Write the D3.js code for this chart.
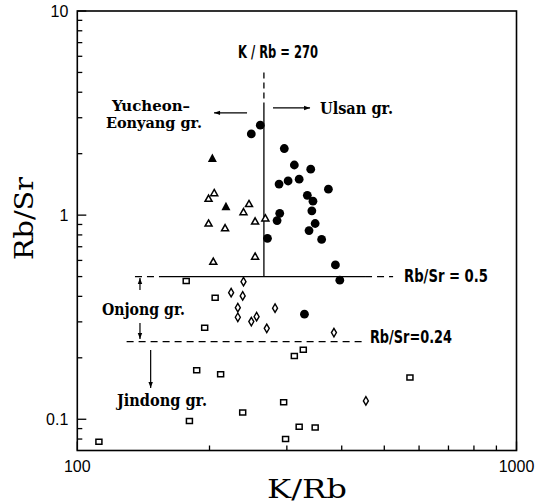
<!DOCTYPE html>
<html><head><meta charset="utf-8">
<script src="https://cdn.jsdelivr.net/npm/d3@7"></script>
<style>body{margin:0;background:#fff}svg{display:block}</style>
</head><body>
<svg id="chart" width="538" height="504"></svg>
<script>
// ---- Data: [K/Rb, Rb/Sr] ----
const ulsanGr = [[261,2.76],[249,2.50],[296,2.12],[312,1.76],[340,1.68],[288,1.42],[302,1.47],[320,1.50],
  [373,1.34],[334,1.25],[344,1.17],[342,1.05],[289,1.02],[285,0.94],[348,0.91],[337,0.84],[360,0.76],
  [271,0.77],[387,0.57],[396,0.48],[329,0.327]];
const yucheonFilled = [[203,1.91],[218,1.11]];
const yucheonOpen = [[205,1.29],[199,1.21],[246,1.14],[239,1.04],[199,0.915],[217,0.868],[254,0.936],
  [268,0.97],[204,0.595],[254,0.63]];
const onjongGr = [[239,0.472],[224,0.417],[238,0.402],[232,0.352],[232,0.316],[249,0.301],[256,0.318],
  [282,0.350],[270,0.279],[384,0.266],[454,0.123]];
const jindongGr = [[177,0.476],[206,0.394],[195,0.281],[187,0.174],[212,0.166],[312,0.204],[327,0.219],
  [572,0.160],[295,0.121],[238,0.108],[180,0.098],[112,0.0777],[298,0.080],[320,0.092],[348,0.091]];

const xTickLabels = ["100","1000"];
const xTickValues = [100,1000];
const yTickLabels = ["0.1","1","10"];
const yTickValues = [0.1,1,10];

// boundary lines (data coords)
const krbBoundary = 266;             // K/Rb = 270 line as drawn
const krbDashed = [5.0, 3.35];       // Rb/Sr span dashed
const krbSolid = [3.35, 0.5];        // Rb/Sr span solid
const rbsr05 = 0.5;
const rbsr05Dashed1 = [135.3, 154.3];
const rbsr05Solid = [154.3, 452];
const rbsr05Dashed2 = [452, 523.6];
const rbsr024 = 0.24;
const rbsr024Dashed = [129.5, 444];

// annotations: [text, K/Rb (left), Rb/Sr (baseline), width px, style, size]
const labelTexts = [
  ["K / Rb = 270", 232.2, 5.885, 80, "cond", 18],
  ["Yucheon\u2013", 119.95, 3.237, 78, "serif", 15],
  ["Eonyang gr.", 116.2, 2.657, 96, "serif", 15],
  ["Ulsan gr.", 356.9, 3.13, 73, "serif", 16],
  ["Onjong gr.", 113.8, 0.3243, 83, "serif", 16],
  ["Jindong gr.", 123.1, 0.1162, 90, "serif", 16],
  ["Rb/Sr = 0.5", 554.4, 0.4705, 84, "cond", 18],
  ["Rb/Sr=0.24", 463.8, 0.2365, 82, "cond", 18]
];
// arrows: [x1,y1,x2,y2] data coords, head at (x2,y2)
const arrowSegs = [
  [243.5,3.17,204.8,3.17],
  [279,3.35,338.8,3.35],
  [138.9,0.430,138.9,0.492],
  [138.9,0.296,138.9,0.2474],
  [146.9,0.2186,146.9,0.1423]
];

const svg = d3.select("#chart");
const x = d3.scaleLog().domain([100,1000]).range([77.3,516.5]);
const y = d3.scaleLog().domain([0.0703,10]).range([450.5,11]);
const [x0,x1] = x.range(), [yb,yt] = y.range();

// ticks (inward)
const isMajor = v => Math.abs(Math.log10(v) - Math.round(Math.log10(v))) < 1e-6;
svg.append("g").selectAll("line").data(y.ticks()).join("line")
  .attr("x1", x0).attr("x2", d => x0 + (isMajor(d) ? 9 : 5))
  .attr("y1", d => y(d)).attr("y2", d => y(d))
  .attr("stroke","#000").attr("stroke-width",1.3);
svg.append("g").selectAll("line").data(x.ticks()).join("line")
  .attr("y1", yb).attr("y2", d => yb - (isMajor(d) ? 9 : 5))
  .attr("x1", d => x(d)).attr("x2", d => x(d))
  .attr("stroke","#000").attr("stroke-width",1.3);

// frame
svg.append("rect").attr("x",x0).attr("y",yt).attr("width",x1-x0).attr("height",yb-yt)
  .attr("fill","none").attr("stroke","#000").attr("stroke-width",1.6);

// tick labels
svg.append("g").selectAll("text").data(yTickValues).join("text")
  .attr("x", x0 - 9).attr("y", d => y(d)).attr("dy","0.36em")
  .attr("text-anchor","end").attr("font-family","'Liberation Sans',Arial,sans-serif")
  .attr("font-size",16).text((d,i) => yTickLabels[i]);
svg.append("g").selectAll("text").data(xTickValues).join("text")
  .attr("x", d => x(d)).attr("y", yb + 21)
  .attr("text-anchor","middle").attr("font-family","'Liberation Sans',Arial,sans-serif")
  .attr("font-size",16).text((d,i) => xTickLabels[i]);

// axis titles
svg.append("text").attr("x",267).attr("y",498).attr("font-family","'DejaVu Serif',serif")
  .attr("font-size",26).attr("textLength",80).attr("lengthAdjust","spacingAndGlyphs").text("K/Rb");
svg.append("text").attr("transform","translate(33,260) rotate(-90)").attr("font-family","'DejaVu Serif',serif")
  .attr("font-size",26).attr("textLength",83).attr("lengthAdjust","spacingAndGlyphs").text("Rb/Sr");

// reference lines
const lineG = svg.append("g").attr("stroke","#000").attr("stroke-width",1.3).attr("fill","none");
lineG.append("line").attr("x1",x(krbBoundary)).attr("x2",x(krbBoundary))
  .attr("y1",y(krbDashed[0])).attr("y2",y(krbDashed[1])).attr("stroke-dasharray","6,4");
lineG.append("line").attr("x1",x(krbBoundary)).attr("x2",x(krbBoundary))
  .attr("y1",y(krbSolid[0])).attr("y2",y(krbSolid[1]));
lineG.append("line").attr("x1",x(rbsr05Dashed1[0])).attr("x2",x(rbsr05Dashed1[1]))
  .attr("y1",y(rbsr05)).attr("y2",y(rbsr05)).attr("stroke-dasharray","7,5");
lineG.append("line").attr("x1",x(rbsr05Solid[0])).attr("x2",x(rbsr05Solid[1]))
  .attr("y1",y(rbsr05)).attr("y2",y(rbsr05));
lineG.append("line").attr("x1",x(rbsr05Dashed2[0])).attr("x2",x(rbsr05Dashed2[1]))
  .attr("y1",y(rbsr05)).attr("y2",y(rbsr05)).attr("stroke-dasharray","7,5");
lineG.append("line").attr("x1",x(rbsr024Dashed[0])).attr("x2",x(rbsr024Dashed[1]))
  .attr("y1",y(rbsr024)).attr("y2",y(rbsr024)).attr("stroke-dasharray","7,5");

// arrows
arrowSegs.forEach(([a,b,c,d]) => {
  const X1=x(a),Y1=y(b),X2=x(c),Y2=y(d);
  const ang = Math.atan2(Y2-Y1, X2-X1);
  svg.append("line").attr("x1",X1).attr("y1",Y1).attr("x2",X2).attr("y2",Y2)
    .attr("stroke","#000").attr("stroke-width",1.2);
  const L=6, W=2.2;
  const bx = X2 - L*Math.cos(ang), by = Y2 - L*Math.sin(ang);
  const px = -Math.sin(ang)*W, py = Math.cos(ang)*W;
  svg.append("path").attr("d",`M${X2},${Y2}L${bx+px},${by+py}L${bx-px},${by-py}Z`).attr("fill","#000");
});

// annotation text
labelTexts.forEach(([t,vx,vy,w,st,fs]) => {
  const el = svg.append("text").attr("x",x(vx)).attr("y",y(vy))
    .attr("textLength",w).attr("lengthAdjust","spacingAndGlyphs").attr("font-size",fs).text(t);
  if (st === "cond") el.attr("font-family","'Liberation Sans Narrow','DejaVu Sans Condensed','Arial Narrow',sans-serif")
    .attr("font-weight","bold");
  else el.attr("font-family","'DejaVu Serif',serif").attr("font-weight","bold");
});

// markers
const tri = (w,h) => `M0,${-h/2}L${w/2},${h/2}L${-w/2},${h/2}Z`;
const rectP = (w,h) => `M${-w/2},${-h/2}h${w}v${h}h${-w}Z`;
const diam = (w,h) => `M0,${-h/2}L${w/2},0L0,${h/2}L${-w/2},0Z`;
const pts = svg.append("g");
pts.selectAll(".sq").data(jindongGr).join("path").attr("class","sq")
  .attr("transform",d=>`translate(${x(d[0])},${y(d[1])})`).attr("d",rectP(6,5))
  .attr("fill","#fff").attr("stroke","#000").attr("stroke-width",1.5);
pts.selectAll(".dm").data(onjongGr).join("path").attr("class","dm")
  .attr("transform",d=>`translate(${x(d[0])},${y(d[1])})`).attr("d",diam(5,8.5))
  .attr("fill","#fff").attr("stroke","#000").attr("stroke-width",1.4);
pts.selectAll(".to").data(yucheonOpen).join("path").attr("class","to")
  .attr("transform",d=>`translate(${x(d[0])},${y(d[1])})`).attr("d",tri(7,6.2))
  .attr("fill","#fff").attr("stroke","#000").attr("stroke-width",1.5);
pts.selectAll(".tf").data(yucheonFilled).join("path").attr("class","tf")
  .attr("transform",d=>`translate(${x(d[0])},${y(d[1])})`).attr("d",tri(9,8.5))
  .attr("fill","#000");
pts.selectAll(".ci").data(ulsanGr).join("circle").attr("class","ci")
  .attr("cx",d=>x(d[0])).attr("cy",d=>y(d[1])).attr("r",4.4).attr("fill","#000");
</script>
</body></html>
